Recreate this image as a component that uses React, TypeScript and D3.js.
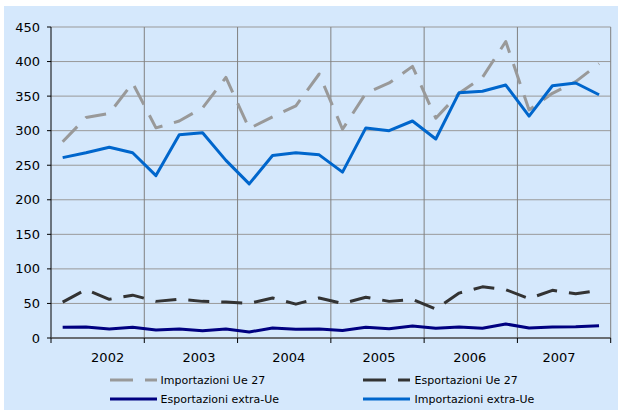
import React from "react";
import * as d3 from "d3";

const years = ["2002", "2003", "2004", "2005", "2006", "2007"];
const quarters = d3.range(24);

const importUe27 = [284, 319, 325, 369, 304, 314, 333, 377, 303, 320, 336, 382, 302, 354, 369, 393, 318, 354, 377, 429, 330, 354, 371, 397];
const exportUe27 = [52, 70, 56, 62, 53, 56, 53, 52, 50, 58, 49, 58, 50, 59, 53, 56, 42, 65, 74, 70, 57, 69, 64, 69];
const exportExtraUe = [15.4, 16, 13, 15.4, 11.6, 13, 10.6, 13, 8.7, 14.5, 12.5, 13, 11, 15.4, 13.5, 17.4, 14, 16, 14, 20.3, 14.5, 16, 16.4, 17.8];
const importExtraUe = [261, 268, 276, 268, 235, 294, 297, 257, 223, 264, 268, 265, 240, 304, 300, 314, 288, 355, 357, 366, 321, 365, 369, 352];

const yTicks = [0, 50, 100, 150, 200, 250, 300, 350, 400, 450];
const yearLabelShift = [10, 8, 4.5, 1.5, -1, -5];

const series = [
  { name: "Importazioni Ue 27", values: importUe27, color: "#999999", dash: "21 12" },
  { name: "Esportazioni Ue 27", values: exportUe27, color: "#333333", dash: "21 12" },
  { name: "Esportazioni extra-Ue", values: exportExtraUe, color: "#000080", dash: "" },
  { name: "Importazioni extra-Ue", values: importExtraUe, color: "#0066CC", dash: "" },
];

export default function App() {
  const W = 618, H = 410;
  const left = 51, right = 610.7, top = 27, bottom = 338;
  const x = d3.scaleBand<number>().domain(quarters).range([left, right]);
  const y = d3.scaleLinear().domain([0, 450]).range([bottom, top]);
  const yearX = d3.scaleBand<string>().domain(years).range([left, right]);
  const line = d3.line<number>().x((_, i) => (x(i) as number) + x.bandwidth() / 2).y((v) => y(v));
  const font = "'DejaVu Sans', Verdana, sans-serif";

  const legendPos = [
    { sx: 110, tx: 160.5, ty: 384 },
    { sx: 363, tx: 414.5, ty: 384 },
    { sx: 110, tx: 160.5, ty: 403 },
    { sx: 363, tx: 414.5, ty: 403 },
  ];

  return (
    <svg width={W} height={H} style={{ position: "absolute", left: 0, top: 0 }}>
      <rect x={4} y={6} width={W - 4} height={H - 6} fill="#D5E8FC" />
      {yTicks.slice(1).map((t) => (
        <line key={"h" + t} x1={left} x2={right} y1={y(t)} y2={y(t)} stroke="#999999" strokeWidth={1} />
      ))}
      {years.map((yr) => (
        <line key={"v" + yr} x1={(yearX(yr) as number) + yearX.bandwidth()} x2={(yearX(yr) as number) + yearX.bandwidth()} y1={top} y2={bottom} stroke="#808080" strokeWidth={1} />
      ))}
      <line x1={left} x2={left} y1={top} y2={bottom} stroke="#000" strokeWidth={1} />
      <line x1={left} x2={right} y1={bottom} y2={bottom} stroke="#444" strokeWidth={1.5} />
      {yTicks.map((t) => (
        <g key={"yt" + t}>
          <line x1={left - 4} x2={left} y1={y(t)} y2={y(t)} stroke="#000" />
          <text x={40} y={y(t)} textAnchor="end" dominantBaseline="central" fontFamily={font} fontSize={13} fill="#000">{t}</text>
        </g>
      ))}
      {[years[0]].concat(years).map((yr, i) => {
        const xx = i === 0 ? left : (yearX(years[i - 1]) as number) + yearX.bandwidth();
        return <line key={"xt" + i} x1={xx} x2={xx} y1={bottom} y2={bottom + 5} stroke="#000" />;
      })}
      {years.map((yr, i) => (
        <text key={"yl" + yr} x={(yearX(yr) as number) + yearX.bandwidth() / 2 + yearLabelShift[i]} y={362} textAnchor="middle" fontFamily={font} fontSize={13} fill="#000">{yr}</text>
      ))}
      {series.map((s) => (
        <path key={s.name} d={line(s.values) as string} fill="none" stroke={s.color} strokeWidth={3} strokeDasharray={s.dash || undefined} strokeLinejoin="round" />
      ))}
      {series.map((s, i) => {
        const p = legendPos[i];
        return (
          <g key={"lg" + s.name}>
            <line x1={p.sx} x2={p.sx + 47} y1={p.ty - 4} y2={p.ty - 4} stroke={s.color} strokeWidth={3} strokeDasharray={s.dash ? "23 12" : undefined} />
            <text x={p.tx} y={p.ty} fontFamily={font} fontSize={11} fill="#000">{s.name}</text>
          </g>
        );
      })}
    </svg>
  );
}
